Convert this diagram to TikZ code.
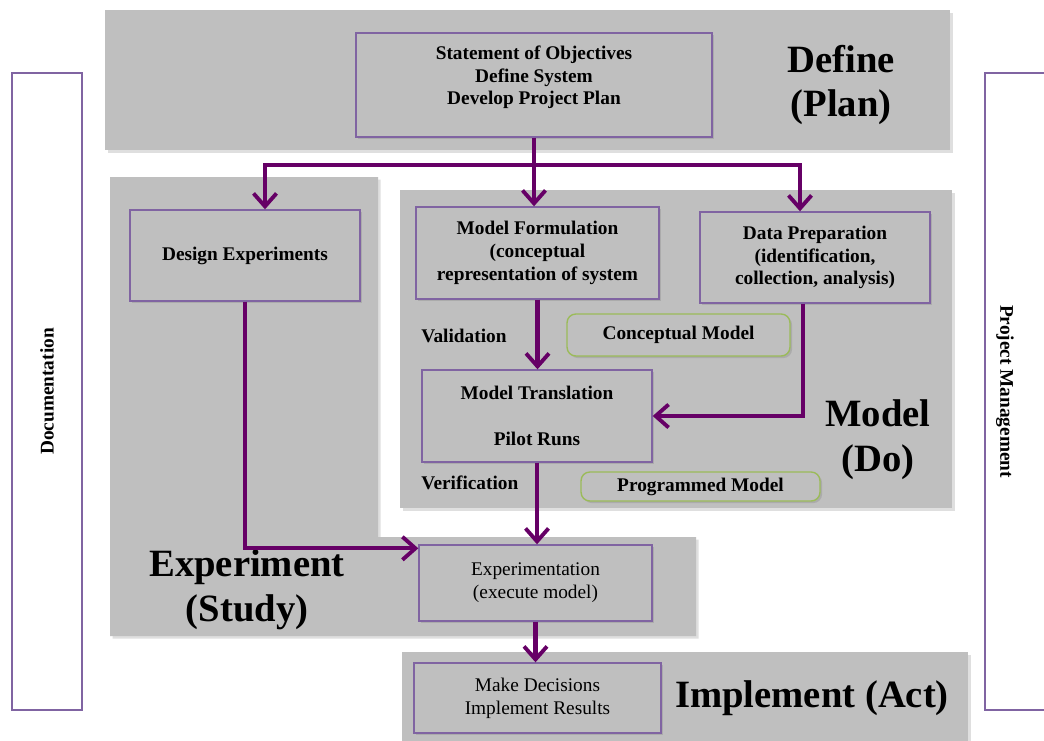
\documentclass[tikz,border=0pt]{standalone}
\usepackage{fontspec}
\setmainfont{Liberation Serif}
\usetikzlibrary{arrows.meta,calc,shadows}
\definecolor{Panel}{HTML}{BFBFBF}
\definecolor{BoxLine}{HTML}{8064A2}
\definecolor{GreenLine}{HTML}{9BBB59}
\definecolor{Flow}{HTML}{660066}

\begin{document}
\begin{tikzpicture}[
  x=0.02cm, y=-0.02cm,
  panel/.style={fill=Panel,drop shadow={shadow xshift=1.5pt,shadow yshift=-1.5pt,opacity=0.25}},
  box/.style={draw=BoxLine,fill=Panel,line width=0.8pt,align=center,inner sep=2pt,font=\fontsize{11}{13}\selectfont\bfseries,drop shadow={shadow xshift=1.2pt,shadow yshift=-1.2pt,opacity=0.3}},
  plain/.style={box,font=\fontsize{11}{13}\selectfont},
  modelbox/.style={box,draw=GreenLine,rounded corners=5pt},
  side/.style={draw=BoxLine,fill=white,line width=0.8pt},
  tag/.style={anchor=west,inner sep=0pt,font=\fontsize{11}{13}\selectfont\bfseries},
  phase/.style={align=center,inner sep=0pt,font=\fontsize{22}{25.6}\selectfont\bfseries},
  arrow/.style={-{Straight Barb[length=2.6mm,width=4.6mm,line width=2.2pt]},line width=2.3pt,draw=Flow},
  line/.style={line width=2.3pt,draw=Flow}
]
\useasboundingbox (0,0) rectangle (1044,740);
\clip (0,0) rectangle (1044,740);
\fill[white] (0,0) rectangle (1044,740);

\fill[panel] (105,10) rectangle (950,150);
\fill[panel] (110,177) -- (378,177) -- (378,537) -- (696,537) -- (696,636) -- (110,636) -- cycle;
\fill[panel] (400,190) rectangle (952,508);
\fill[panel] (402,652) rectangle (968,760);

\node[side,rotate=90,minimum width=12.74cm,minimum height=1.4cm,font=\fontsize{11}{13}\selectfont\bfseries] (doc) at (47,391.5) {Documentation};
\draw[side] (985,73) rectangle (1070,710);
\node[rotate=-90,font=\fontsize{11}{13}\selectfont\bfseries] (pm) at (1005,391.5) {Project Management};

\node[box,minimum width=7.12cm,minimum height=2.08cm] (obj) at (534,85) {Statement of Objectives\\Define System\\Develop Project Plan\\[-2pt]\mbox{}};
\node[box,minimum width=4.6cm,minimum height=1.82cm] (design) at (245,255.5) {Design Experiments};
\node[box,minimum width=4.86cm,minimum height=1.84cm] (formul) at (537.5,253) {Model Formulation\\(conceptual\\representation of system};
\node[box,minimum width=4.6cm,minimum height=1.82cm] (dataprep) at (815,257.5) {Data Preparation\\(identification,\\collection, analysis)};
\node[modelbox,minimum width=4.46cm,minimum height=0.84cm] (concept) at (678.5,335) {Conceptual Model};
\node[box,minimum width=4.6cm,minimum height=1.84cm] (transl) at (537,416) {Model Translation\\[13pt]Pilot Runs};
\node[modelbox,minimum width=4.78cm,minimum height=0.58cm] (progm) at (700.5,486.5) {Programmed Model};
\node[plain,minimum width=4.66cm,minimum height=1.52cm] (expt) at (535.5,583) {Experimentation\\(execute model)};
\node[plain,minimum width=4.94cm,minimum height=1.4cm] (decide) at (537.5,698) {Make Decisions\\Implement Results};

\node[tag] (valid) at (421,336) {Validation};
\node[tag] (verif) at (421,483) {Verification};

\node[phase] (define) at (841,85) {Define\\(Plan)};
\node[phase] (model) at (878,440) {Model\\(Do)};
\node[phase] (experiment) at (247,590) {Experiment\\(Study)};
\node[phase] (implement) at (812,698) {Implement (Act)};

\coordinate (hub) at (534,165);
\draw[line] (obj.south) -- (hub);
\draw[arrow] (hub) -| ($(design.north)+(20,0)$);
\draw[arrow] (hub) -- (hub |- formul.north);
\draw[arrow] (hub) -| ($(dataprep.north)+(-15,0)$);
\draw[arrow] (formul.south) -- (formul.south |- transl.north);
\draw[arrow] ($(dataprep.south)+(-12,0)$) |- (transl.east);
\draw[arrow] (transl.south) -- (transl.south |- expt.north);
\draw[arrow] (design.south) |- ($(expt.north west)+(0,4)$);
\draw[arrow] (expt.south) -- (expt.south |- decide.north);
\end{tikzpicture}
\end{document}
